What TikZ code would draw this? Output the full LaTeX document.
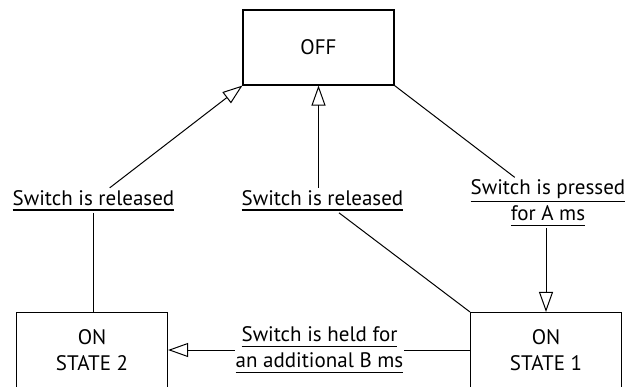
\documentclass[tikz,border=0pt]{standalone}
\usepackage{fontspec}
\setmainfont{PT Sans}
\usetikzlibrary{arrows.meta}
\newlength\ulpos
\newcommand\ulx[1]{\setbox0=\hbox{#1}\ifdim\dp0>1pt \ulpos=\dimexpr\dp0+3.4pt\relax\else\ulpos=5.6pt\fi\leavevmode\rlap{\rule[-\ulpos]{\wd0}{1.2pt}}\box0}
\tikzset{
  statebox/.style={draw, line width=1.1pt, minimum width=151pt, minimum height=75pt, inner sep=0pt, align=center, font=\fontsize{21}{26}\selectfont},
  lbl/.style={inner xsep=1pt, inner ysep=2pt, align=center, font=\fontsize{21}{26}\selectfont, anchor=base},
  conn/.style={line width=1pt},
  arr/.style={conn, -{Triangle[open, length=20pt, width=14pt]}}
}
\begin{document}
\begin{tikzpicture}[x=1pt, y=-1pt]
\useasboundingbox (0,0) rectangle (628,386);
\node[statebox] (OFF) at (318.5,47.5) {OFF};
\node[statebox] (S2) at (92,350) {ON\\STATE 2};
\node[statebox] (S1) at (546,350) {ON\\STATE 1};
\node[lbl] (L1) at (93.5,205) {\ulx{Switch is released}};
\node[lbl] (L2) at (322.5,205) {\ulx{Switch is released}};
\node[lbl] (L3) at (548,220.5) {\ulx{Switch is pressed}\\\ulx{for A ms}};
\node[lbl] (L4) at (319.5,367.5) {\ulx{Switch is held for}\\\ulx{an additional B ms}};
\draw[arr] (L1) -- (OFF.south west);
\draw[conn] (L1) -- (L1 |- S2.north);
\draw[arr] (L2.north -| OFF.south) -- (OFF.south);
\draw[conn] (L2) -- (S1.north west);
\draw[conn] (OFF.south east) -- (L3);
\draw[arr] (L3.south -| S1.north) -- (S1.north);
\draw[conn] (S1.west) -- (S1.west -| L4.east);
\draw[arr] (S2.east -| L4.west) -- (S2.east);
\end{tikzpicture}
\end{document}
